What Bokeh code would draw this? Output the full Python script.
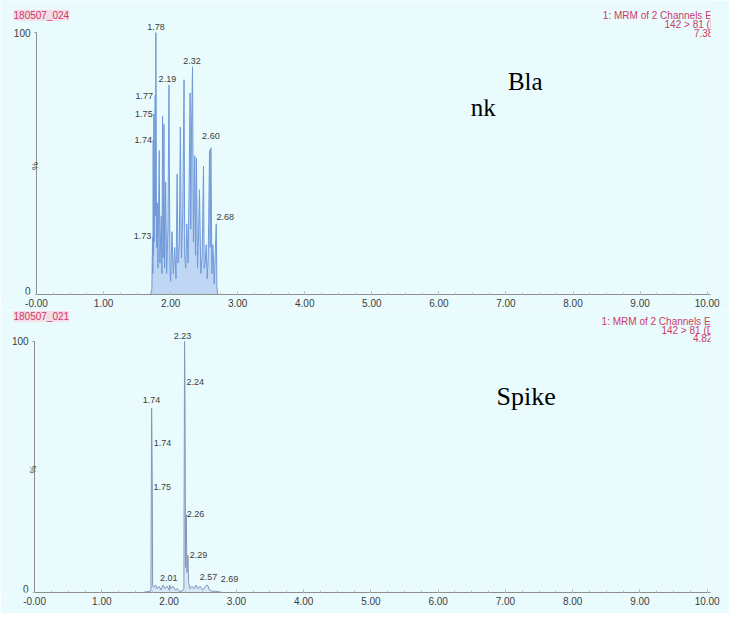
from math import pi
from bokeh.plotting import figure
from bokeh.layouts import column
from bokeh.models import Range1d, FixedTicker, Label, BoxAnnotation, ColumnDataSource
from bokeh.core.properties import value
from bokeh.embed import file_html
from bokeh.resources import INLINE

# ---------------- data ----------------
x_ticks = [0, 1, 2, 3, 4, 5, 6, 7, 8, 9, 10]
x_tick_labels = ["-0.00", "1.00", "2.00", "3.00", "4.00", "5.00", "6.00", "7.00", "8.00", "9.00", "10.00"]
y_ticks = [0, 100]
y_tick_labels = ["0", "100"]

# Blank chromatogram (retention time, %)
blank_time = [1.70, 1.72, 1.73, 1.735, 1.74, 1.745, 1.75, 1.755, 1.77, 1.775, 1.78, 1.79,
              1.80, 1.81, 1.83, 1.84, 1.86, 1.87, 1.88, 1.89, 1.90, 1.91, 1.926, 1.94,
              1.96, 1.975, 1.99, 2.00, 2.02, 2.04, 2.06, 2.08, 2.097, 2.11, 2.13, 2.145,
              2.16, 2.18, 2.20, 2.21, 2.225, 2.24, 2.26, 2.275, 2.29, 2.30, 2.31, 2.326,
              2.34, 2.36, 2.37, 2.385, 2.40, 2.415, 2.43, 2.45, 2.47, 2.49, 2.50, 2.515,
              2.53, 2.545, 2.56, 2.58, 2.59, 2.60, 2.615, 2.63, 2.65, 2.68, 2.69, 2.70]
blank_intensity = [0, 2, 22, 8, 59, 15, 69, 20, 76, 30, 100, 18,
                   35, 10, 55, 12, 30, 8, 68, 14, 65, 10, 43, 8,
                   25, 80, 10, 5, 24, 8, 18, 6, 46, 12, 20, 64,
                   14, 30, 82, 15, 10, 27, 12, 40, 77, 25, 60, 87,
                   20, 53, 15, 52, 10, 22, 40, 8, 15, 49, 10, 12,
                   19, 6, 14, 55, 18, 56, 8, 19, 4, 27, 3, 0]
blank_peak_labels = ["1.78", "2.32", "2.19", "1.77", "1.75", "1.74", "2.60", "2.68", "1.73"]
blank_label_height = [102, 89, 82.5, 75.8, 69.1, 59.1, 60.6, 29.7, 22.3]
blank_header = ["1: MRM of 2 Channels ES+", "142 > 81 (DMZ)", "7.38e3"]
blank_sample = "180507_024"

# Spiked chromatogram (retention time, %)
spike_time = [1.60, 1.72, 1.73, 1.74, 1.745, 1.75, 1.755, 1.77, 1.80, 1.82, 1.85, 1.88,
              1.91, 1.94, 1.97, 2.00, 2.01, 2.03, 2.06, 2.09, 2.12, 2.15, 2.19, 2.22,
              2.23, 2.235, 2.245, 2.255, 2.265, 2.28, 2.29, 2.31, 2.34, 2.37, 2.40, 2.43,
              2.46, 2.50, 2.54, 2.57, 2.60, 2.64, 2.69, 2.80]
spike_intensity = [0, 0.5, 1, 73.5, 60, 42, 2.5, 2, 3, 1.5, 2.5, 1,
                   3, 1.5, 2.5, 1, 3, 1.5, 2.5, 1, 1.5, 0.5, 0.5, 1.5,
                   100, 84, 10, 31, 8, 14.8, 4, 1.5, 2.5, 1.5, 3, 1.5,
                   2.5, 1, 2.5, 3, 1, 0.5, 0.5, 0]
spike_peak_labels = ["2.23", "2.24", "1.74", "1.74", "1.75", "2.26", "2.29", "2.01", "2.57", "2.69"]
spike_label_height = [102.3, 84.0, 76.7, 59.5, 42.0, 31.1, 14.8, 5.6, 6.0, 5.2]
spike_header = ["1: MRM of 2 Channels ES+", "142 > 81 (DMZ)", "4.82e3"]
spike_sample = "180507_021"

# ---------------- styles ----------------
BG = "#e9fbfd"
AXIS = "#8e8e8e"
TXT = "#3c3c3c"
RED = "#cc3a68"
SANS = "Liberation Sans"
SERIF = "Liberation Serif"
blank_dx = [0, 0, -16, -11, -10, -10, 0, 9, -10]
spike_dx = [-2, 10, 0, 11, 10, 9, 10, -1, 1, 14]
X_END = 10.05


def make_panel(height, x_start, ymax, bottom_border, standoff):
    p = figure(width=729, height=height, x_range=Range1d(x_start, X_END),
               y_range=Range1d(0, ymax),
               output_backend="svg", toolbar_location=None, title=None,
               min_border_left=0, min_border_right=19, min_border_top=0,
               min_border_bottom=bottom_border,
               background_fill_color=BG, border_fill_color=BG, outline_line_color=None)
    p.grid.visible = False
    xa = p.xaxis[0]
    xa.ticker = FixedTicker(ticks=x_ticks, minor_ticks=[i * 0.25 for i in range(41)])
    xa.major_label_overrides = dict(zip(x_ticks, x_tick_labels))
    xa.bounds = (0, X_END)
    xa.major_label_text_font = SANS
    xa.major_label_text_font_size = "10px"
    xa.major_label_text_color = TXT
    xa.axis_line_color = AXIS
    xa.major_tick_in = 3
    xa.major_tick_out = 0
    xa.minor_tick_in = 2
    xa.minor_tick_out = 0
    xa.major_tick_line_color = "#a8a8a8"
    xa.minor_tick_line_color = "#c4c4c4"
    xa.major_label_standoff = standoff
    ya = p.yaxis[0]
    ya.fixed_location = 0
    ya.ticker = FixedTicker(ticks=y_ticks, minor_ticks=[])
    # the "0" label sits on the frame edge, where the axis would clip it: drawn as a Label below
    ya.major_label_overrides = {y_ticks[0]: "", y_ticks[1]: y_tick_labels[1]}
    ya.bounds = (0, 100)
    ya.major_label_text_font = SANS
    ya.major_label_text_font_size = "10px"
    ya.major_label_text_color = TXT
    ya.axis_line_color = AXIS
    ya.major_tick_in = 0
    ya.major_tick_out = 2
    ya.major_tick_line_color = AXIS
    ya.major_label_standoff = 4
    p.add_layout(Label(x=0, y=y_ticks[0], x_offset=-6, text=y_tick_labels[0], text_font=SANS,
                       text_font_size="10px", text_color=TXT, text_align="right",
                       text_baseline="bottom"))
    return p


def decorate(p, time, inten, labels, heights, dx, header, sample, line_col, fill_col, fill_alpha,
             sample_xy, header_xy, pct_y):
    p.varea(x=time, y1=0, y2=inten, fill_color=fill_col, fill_alpha=fill_alpha)
    p.line(x=time, y=inten, line_color=line_col, line_width=1)
    src = ColumnDataSource(dict(x=[float(s) for s in labels], y=heights, text=labels, dx=dx))
    p.text(x="x", y="y", text="text", x_offset="dx", source=src, text_align="center",
           text_baseline="middle", text_font=value(SANS), text_font_size="9px", text_color=TXT)
    p.add_layout(Label(x=sample_xy[0], y=sample_xy[1], text=sample, text_font=SANS,
                       text_font_size="10px", text_color=RED, text_align="left",
                       text_baseline="middle", background_fill_color="#f5dde6"))
    for (hx, hy), t in zip(header_xy, header):
        p.add_layout(Label(x=hx, y=hy, text=t, text_font=SANS, text_font_size="10px",
                           text_color=RED, text_align="left", text_baseline="middle"))
    p.add_layout(Label(x=-0.03, y=pct_y, text="%", text_font=SANS, text_font_size="9px",
                       text_color=TXT, text_align="center", text_baseline="middle", angle=pi / 2))
    p.add_layout(Label(x=X_END, y=0.6, x_offset=2, text="Time", text_font=SANS,
                       text_font_size="10px", text_color=TXT, text_align="left",
                       text_baseline="bottom"))


# top panel: blank
p1 = make_panel(310, -0.537, 112.3, 16, 4)
decorate(p1, blank_time, blank_intensity, blank_peak_labels, blank_label_height, blank_dx,
         blank_header, blank_sample, "#7099d8", "#a3c0ee", 0.6,
         (-0.343, 106.7), [(8.445, 106.7), (9.365, 103.0), (9.803, 100.0)], 49.1)
p1.add_layout(Label(x=7.029, y=81.4, text="Bla", text_font=SERIF, text_font_size="25px",
                    text_color="black", text_align="left", text_baseline="alphabetic"))
p1.add_layout(Label(x=6.474, y=71.4, text="nk", text_font=SERIF, text_font_size="25px",
                    text_color="black", text_align="left", text_baseline="alphabetic"))
p1.add_layout(BoxAnnotation(left=6.33, right=6.97, bottom=74.6, top=82.0, fill_color=BG,
                            fill_alpha=1.0, line_color=None, level="overlay"))

# bottom panel: spike
p2 = make_panel(303, -0.507, 112.35, 21, 4)
decorate(p2, spike_time, spike_intensity, spike_peak_labels, spike_label_height, spike_dx,
         spike_header, spike_sample, "#8496b8", "#b3c8ec", 0.35,
         (-0.314, 110.1), [(8.431, 107.8), (9.32, 104.3), (9.788, 101.2)], 49.0)
p2.add_layout(Label(x=6.869, y=78.2, text="Spike", text_font=SERIF, text_font_size="26px",
                    text_color="black", text_align="left", text_baseline="alphabetic"))
p2.add_layout(Label(x=6.40, y=66.5, text="l", text_font=SERIF, text_font_size="26px",
                    text_color="black", text_align="left", text_baseline="alphabetic"))
p2.add_layout(BoxAnnotation(left=6.25, right=6.70, bottom=58.0, top=71.6, fill_color=BG,
                            fill_alpha=1.0, line_color=None, level="overlay"))

layout = column(p1, p2, spacing=0)
open("out.html", "w").write(file_html(layout, INLINE))
